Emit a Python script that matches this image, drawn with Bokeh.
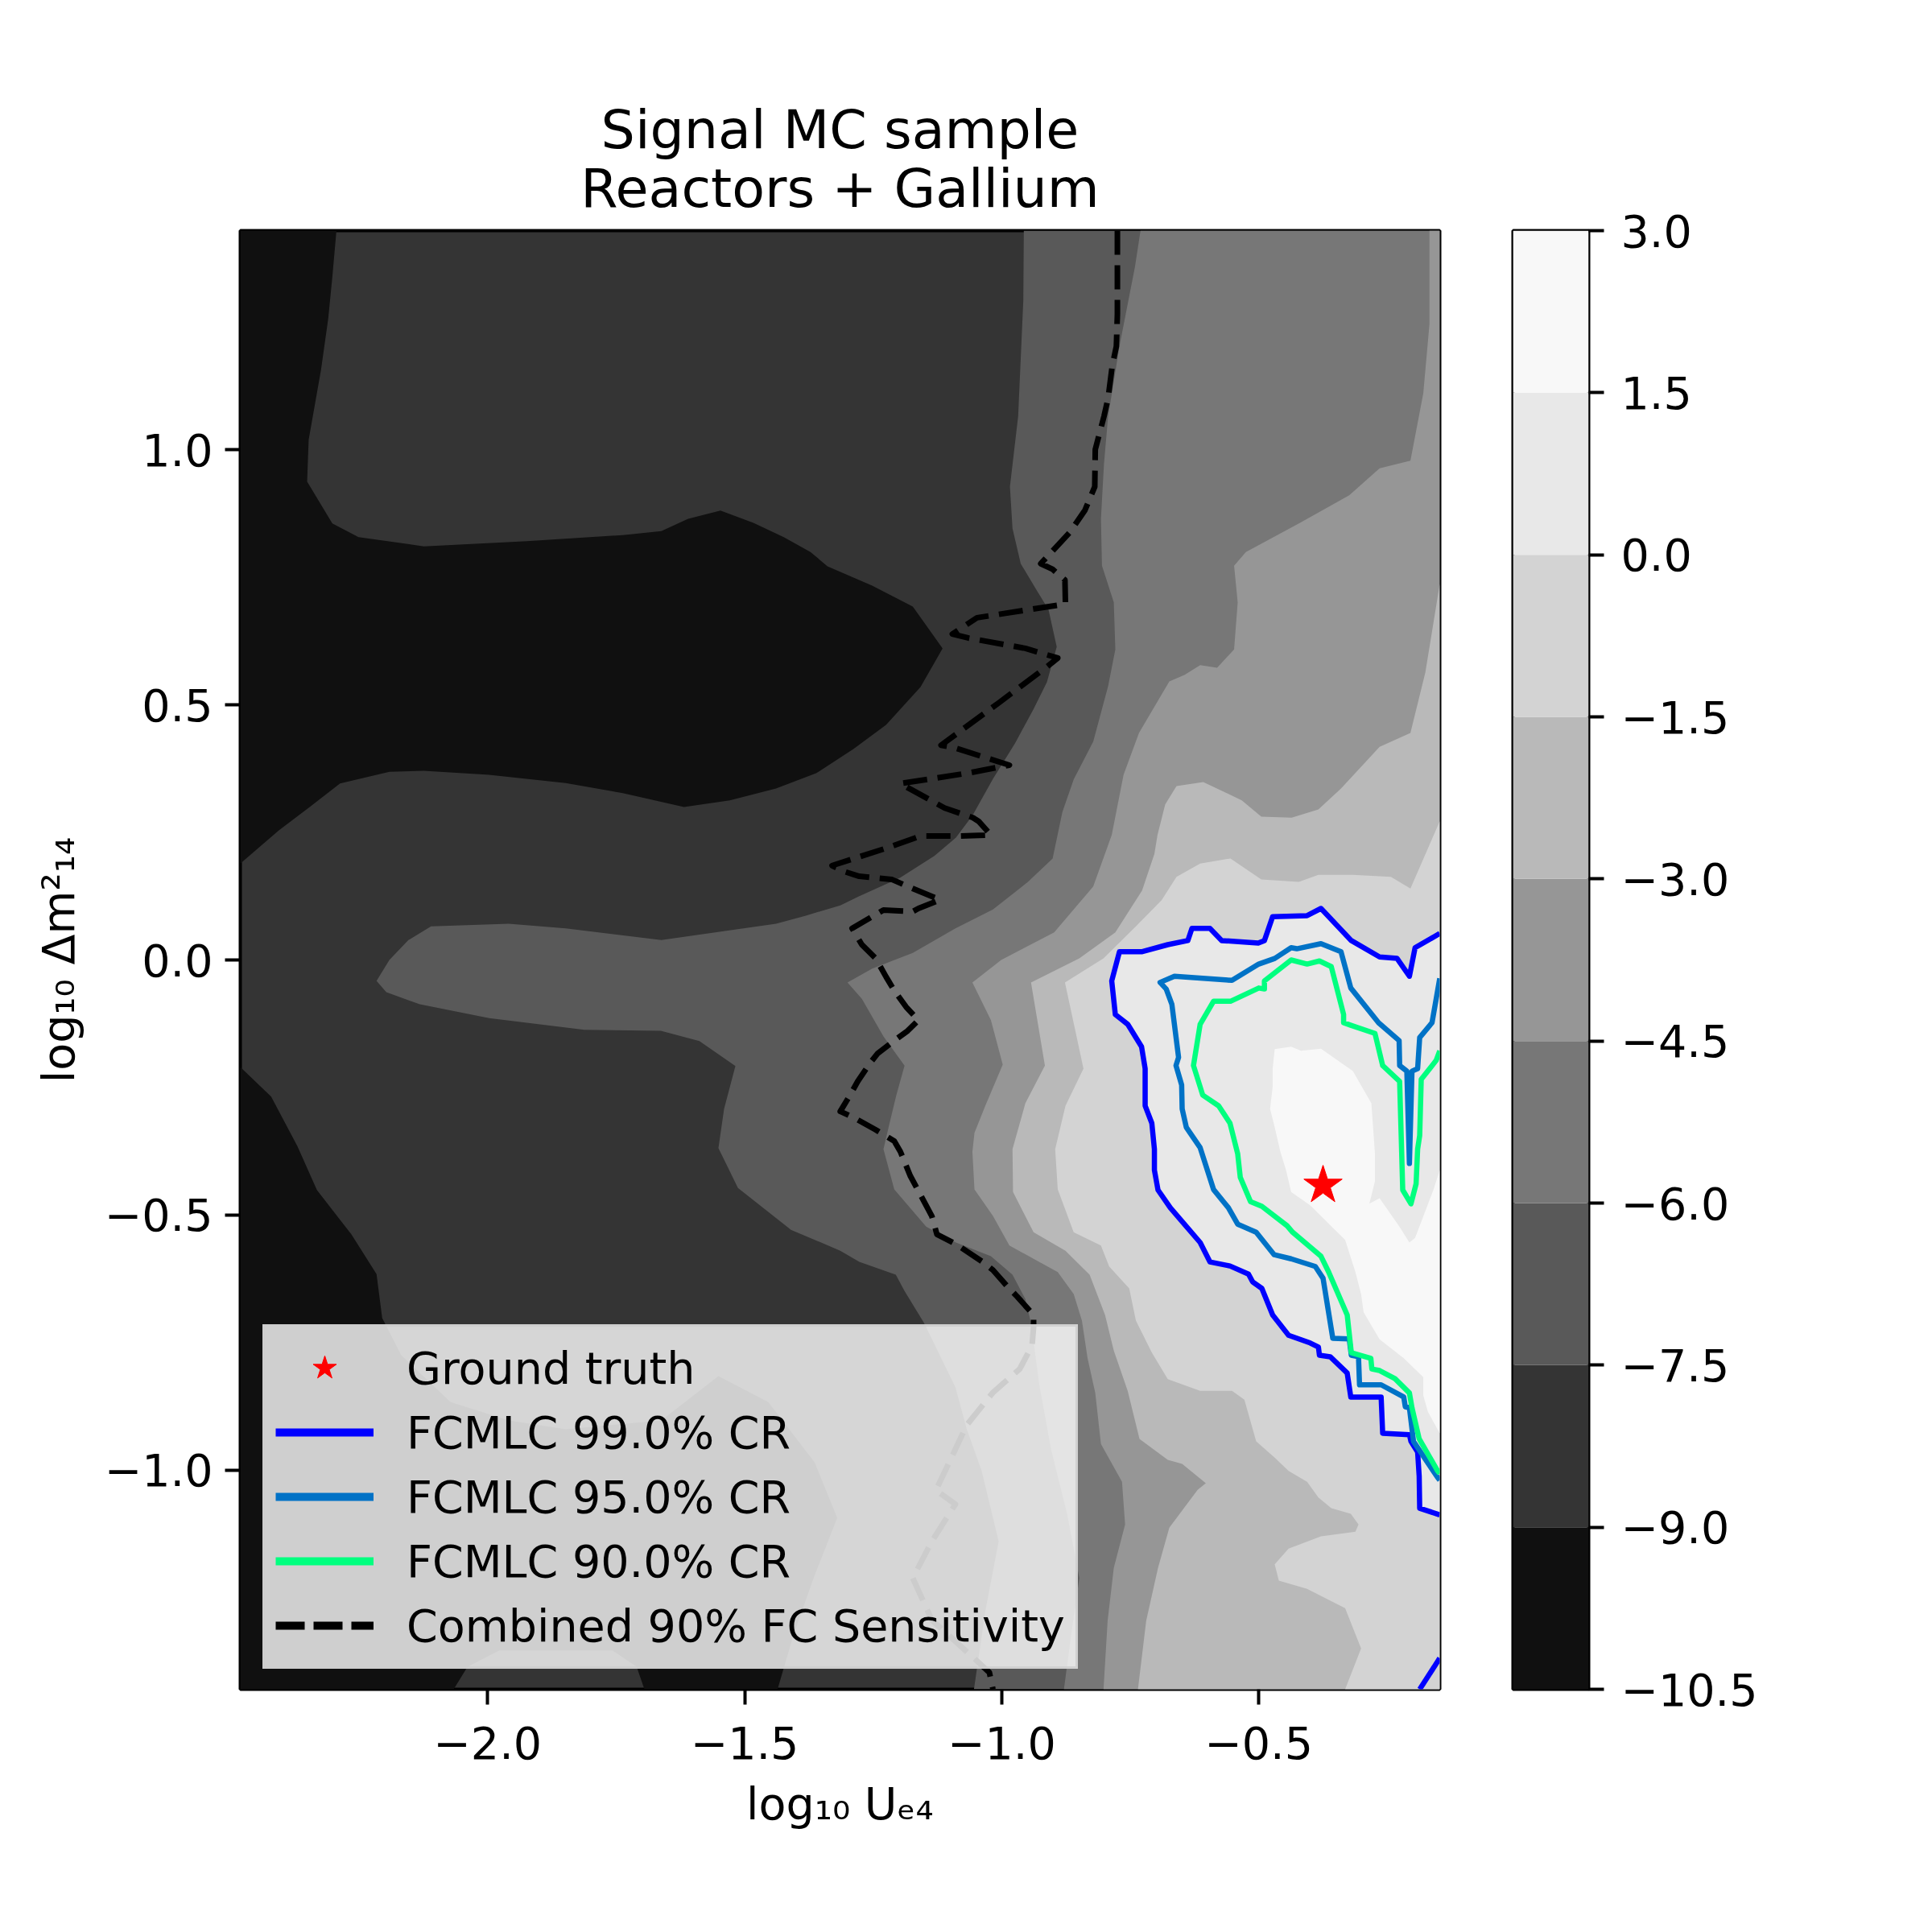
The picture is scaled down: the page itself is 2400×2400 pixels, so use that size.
import math
from bokeh.plotting import figure
from bokeh.models import Range1d, FixedTicker, Legend, LegendItem, Label
from bokeh.layouts import row
from bokeh.embed import file_html
from bokeh.resources import INLINE

FONT = "DejaVu Sans"

# ---------------- data ----------------
x_lim = (-2.481, -0.148)
y_lim = (-1.430, 1.430)

x_ticks = [-2.0, -1.5, -1.0, -0.5]
x_tick_labels = ["\u22122.0", "\u22121.5", "\u22121.0", "\u22120.5"]
y_ticks = [-1.0, -0.5, 0.0, 0.5, 1.0]
y_tick_labels = ["\u22121.0", "\u22120.5", "0.0", "0.5", "1.0"]

levels = [-10.5, -9.0, -7.5, -6.0, -4.5, -3.0, -1.5, 0.0, 1.5, 3.0]
level_labels = ["\u221210.5", "\u22129.0", "\u22127.5", "\u22126.0", "\u22124.5",
                "\u22123.0", "\u22121.5", "0.0", "1.5", "3.0"]
band_colors = ["#101010", "#343434", "#595959", "#777777", "#969696",
               "#b9b9b9", "#d3d3d3", "#e8e8e8", "#f8f8f8"]

# regions with log10 p < -9 (closed outlines)
dark_upper = [(-2.481, 1.430), (-2.294, 1.430), (-2.302, 1.339), (-2.310, 1.257), (-2.324, 1.157),
              (-2.348, 1.020), (-2.351, 0.938), (-2.302, 0.856), (-2.251, 0.829), (-2.124, 0.811),
              (-1.923, 0.821), (-1.737, 0.833), (-1.662, 0.841), (-1.610, 0.865), (-1.547, 0.881),
              (-1.483, 0.857), (-1.424, 0.829), (-1.372, 0.800), (-1.339, 0.772), (-1.252, 0.734),
              (-1.173, 0.693), (-1.115, 0.611), (-1.158, 0.535), (-1.225, 0.461), (-1.288, 0.414),
              (-1.361, 0.366), (-1.439, 0.336), (-1.529, 0.313), (-1.618, 0.300), (-1.737, 0.327),
              (-1.848, 0.347), (-1.997, 0.363), (-2.124, 0.371), (-2.191, 0.369), (-2.287, 0.346),
              (-2.346, 0.300), (-2.406, 0.254), (-2.481, 0.189)]
dark_lower = [(-2.481, -0.210), (-2.421, -0.268), (-2.370, -0.365), (-2.332, -0.451), (-2.265, -0.538),
              (-2.216, -0.616), (-2.205, -0.702), (-2.168, -0.775), (-2.072, -0.867), (-1.959, -0.903),
              (-1.848, -0.920), (-1.662, -0.903), (-1.551, -0.816), (-1.454, -0.867), (-1.364, -0.985),
              (-1.320, -1.094), (-1.366, -1.212), (-1.405, -1.323), (-1.436, -1.430), (-1.695, -1.430),
              (-1.710, -1.386), (-1.757, -1.354), (-1.977, -1.354), (-2.039, -1.386), (-2.066, -1.430),
              (-2.481, -1.430)]

# level boundaries (region to the right of each curve is above the level)
edge_m7_5 = [(-0.957, 1.430), (-0.958, 1.293), (-0.968, 1.066), (-0.984, 0.928), (-0.979, 0.846),
             (-0.963, 0.777), (-0.932, 0.725), (-0.909, 0.687), (-0.893, 0.614), (-0.912, 0.545),
             (-0.938, 0.492), (-0.974, 0.425), (-1.017, 0.355), (-1.057, 0.283), (-1.089, 0.240),
             (-1.131, 0.204), (-1.198, 0.161), (-1.277, 0.125), (-1.314, 0.107), (-1.381, 0.087),
             (-1.439, 0.071), (-1.662, 0.039), (-1.848, 0.062), (-1.959, 0.071), (-2.110, 0.066),
             (-2.154, 0.039), (-2.191, 0.000), (-2.216, -0.041), (-2.197, -0.063), (-2.132, -0.087),
             (-1.997, -0.114), (-1.812, -0.137), (-1.663, -0.139), (-1.588, -0.159), (-1.518, -0.208),
             (-1.540, -0.292), (-1.551, -0.369), (-1.513, -0.447), (-1.410, -0.529), (-1.314, -0.570),
             (-1.277, -0.592), (-1.206, -0.617), (-1.189, -0.649), (-1.151, -0.712), (-1.090, -0.838),
             (-1.068, -0.920), (-1.039, -1.002), (-1.006, -1.140), (-1.032, -1.277), (-1.054, -1.430)]
edge_m6 = [(-0.730, 1.430), (-0.741, 1.358), (-0.771, 1.203), (-0.793, 1.066), (-0.801, 0.974),
           (-0.807, 0.865), (-0.805, 0.773), (-0.782, 0.701), (-0.779, 0.609), (-0.793, 0.537),
           (-0.822, 0.428), (-0.860, 0.354), (-0.882, 0.290), (-0.901, 0.199), (-0.949, 0.153),
           (-1.017, 0.099), (-1.090, 0.062), (-1.173, 0.014), (-1.252, -0.017), (-1.300, -0.044),
           (-1.272, -0.076), (-1.230, -0.150), (-1.189, -0.207), (-1.205, -0.265), (-1.220, -0.328),
           (-1.230, -0.371), (-1.209, -0.450), (-1.147, -0.523), (-1.089, -0.554), (-1.021, -0.581),
           (-0.979, -0.617), (-0.954, -0.665), (-0.943, -0.712), (-0.927, -0.833), (-0.904, -0.960),
           (-0.873, -1.086), (-0.849, -1.212), (-0.865, -1.323), (-0.879, -1.430)]
edge_m4_5 = [(-0.168, 1.430), (-0.168, 1.247), (-0.180, 1.111), (-0.205, 0.979), (-0.265, 0.964),
             (-0.324, 0.911), (-0.422, 0.856), (-0.525, 0.800), (-0.548, 0.773), (-0.541, 0.701),
             (-0.548, 0.609), (-0.581, 0.573), (-0.614, 0.578), (-0.644, 0.559), (-0.674, 0.546),
             (-0.733, 0.445), (-0.763, 0.363), (-0.786, 0.245), (-0.822, 0.144), (-0.898, 0.054),
             (-1.001, 0.000), (-1.057, -0.044), (-1.021, -0.118), (-0.998, -0.205), (-1.032, -0.286),
             (-1.053, -0.339), (-1.057, -0.376), (-1.053, -0.450), (-1.017, -0.502), (-0.985, -0.560),
             (-0.938, -0.586), (-0.891, -0.612), (-0.860, -0.655), (-0.844, -0.707), (-0.833, -0.781),
             (-0.818, -0.849), (-0.807, -0.949), (-0.766, -1.023), (-0.760, -1.107), (-0.782, -1.192),
             (-0.794, -1.296), (-0.802, -1.430)]
edge_m3 = [(-0.148, 0.737), (-0.176, 0.564), (-0.205, 0.445), (-0.265, 0.418), (-0.340, 0.336),
           (-0.384, 0.295), (-0.436, 0.279), (-0.495, 0.281), (-0.533, 0.313), (-0.608, 0.349),
           (-0.660, 0.341), (-0.682, 0.305), (-0.697, 0.245), (-0.703, 0.208), (-0.727, 0.136),
           (-0.779, 0.054), (-0.849, 0.003), (-0.943, -0.044), (-0.916, -0.207), (-0.954, -0.281),
           (-0.979, -0.371), (-0.978, -0.455), (-0.938, -0.534), (-0.876, -0.570), (-0.829, -0.617),
           (-0.799, -0.696), (-0.782, -0.766), (-0.755, -0.845), (-0.732, -0.939), (-0.677, -0.980),
           (-0.649, -0.988), (-0.603, -1.026), (-0.619, -1.039), (-0.674, -1.113), (-0.696, -1.192),
           (-0.719, -1.296), (-0.735, -1.430)]
edge_m1_5 = [(-0.148, 0.272), (-0.205, 0.140), (-0.243, 0.163), (-0.317, 0.167), (-0.384, 0.167),
             (-0.422, 0.153), (-0.495, 0.158), (-0.555, 0.199), (-0.614, 0.189), (-0.660, 0.163),
             (-0.689, 0.117), (-0.739, 0.066), (-0.802, 0.003), (-0.877, -0.044), (-0.841, -0.213),
             (-0.876, -0.286), (-0.896, -0.371), (-0.891, -0.450), (-0.860, -0.534), (-0.807, -0.560),
             (-0.791, -0.601), (-0.752, -0.644), (-0.739, -0.707), (-0.708, -0.770), (-0.677, -0.822),
             (-0.614, -0.845), (-0.552, -0.845), (-0.528, -0.862), (-0.505, -0.944), (-0.469, -0.976),
             (-0.442, -1.002), (-0.406, -1.023), (-0.384, -1.054), (-0.359, -1.075), (-0.321, -1.086),
             (-0.306, -1.107), (-0.312, -1.121), (-0.379, -1.130), (-0.442, -1.154), (-0.469, -1.185),
             (-0.461, -1.217), (-0.406, -1.233), (-0.332, -1.271), (-0.301, -1.350), (-0.332, -1.430)]
core_p1_5 = [(-0.469, -0.175), (-0.437, -0.170), (-0.418, -0.178), (-0.379, -0.174), (-0.317, -0.218),
             (-0.281, -0.281), (-0.274, -0.380), (-0.274, -0.434), (-0.285, -0.478), (-0.265, -0.467),
             (-0.227, -0.522), (-0.207, -0.554), (-0.196, -0.545), (-0.160, -0.450), (-0.148, -0.412),
             (-0.148, -0.928), (-0.171, -0.886), (-0.180, -0.854), (-0.180, -0.818), (-0.218, -0.781),
             (-0.265, -0.744), (-0.296, -0.691), (-0.301, -0.655), (-0.312, -0.612), (-0.332, -0.549),
             (-0.343, -0.538), (-0.400, -0.481), (-0.437, -0.455), (-0.447, -0.412), (-0.458, -0.376),
             (-0.469, -0.328), (-0.478, -0.292), (-0.473, -0.249), (-0.473, -0.213)]

# credible-region contours
cr99 = [(-0.148, 0.052), (-0.196, 0.024), (-0.207, -0.032), (-0.231, 0.003), (-0.265, 0.006),
        (-0.320, 0.038), (-0.379, 0.101), (-0.406, 0.087), (-0.473, 0.085), (-0.489, 0.038),
        (-0.501, 0.033), (-0.572, 0.038), (-0.595, 0.062), (-0.630, 0.062), (-0.638, 0.038),
        (-0.677, 0.030), (-0.728, 0.016), (-0.771, 0.016), (-0.786, -0.041), (-0.779, -0.107),
        (-0.755, -0.126), (-0.728, -0.170), (-0.721, -0.213), (-0.721, -0.286), (-0.708, -0.320),
        (-0.703, -0.371), (-0.703, -0.412), (-0.696, -0.451), (-0.672, -0.486), (-0.614, -0.554),
        (-0.595, -0.592), (-0.556, -0.600), (-0.520, -0.616), (-0.512, -0.631), (-0.494, -0.644),
        (-0.473, -0.696), (-0.442, -0.736), (-0.400, -0.751), (-0.384, -0.759), (-0.382, -0.775),
        (-0.361, -0.778), (-0.328, -0.810), (-0.321, -0.857), (-0.262, -0.857), (-0.259, -0.928),
        (-0.207, -0.931), (-0.204, -0.944), (-0.191, -0.965), (-0.188, -1.012), (-0.187, -1.075),
        (-0.148, -1.088)]
cr99_corner = [(-0.148, -1.369), (-0.187, -1.430)]
cr95 = [(-0.148, -0.036), (-0.163, -0.123), (-0.187, -0.152), (-0.191, -0.213), (-0.202, -0.218),
        (-0.207, -0.399), (-0.212, -0.218), (-0.226, -0.207), (-0.227, -0.158), (-0.267, -0.123),
        (-0.321, -0.055), (-0.340, 0.016), (-0.379, 0.032), (-0.426, 0.022), (-0.437, 0.024),
        (-0.469, 0.003), (-0.500, -0.008), (-0.552, -0.040), (-0.664, -0.032), (-0.692, -0.044),
        (-0.680, -0.057), (-0.669, -0.087), (-0.656, -0.191), (-0.661, -0.207), (-0.650, -0.245),
        (-0.649, -0.292), (-0.641, -0.328), (-0.614, -0.368), (-0.588, -0.450), (-0.559, -0.486),
        (-0.541, -0.518), (-0.505, -0.534), (-0.470, -0.578), (-0.437, -0.586), (-0.390, -0.601),
        (-0.375, -0.624), (-0.356, -0.742), (-0.324, -0.743), (-0.320, -0.775), (-0.306, -0.778),
        (-0.304, -0.833), (-0.262, -0.833), (-0.218, -0.857), (-0.215, -0.876), (-0.207, -0.878),
        (-0.199, -0.944), (-0.152, -1.015), (-0.148, -1.020)]
cr90 = [(-0.148, -0.178), (-0.155, -0.197), (-0.184, -0.234), (-0.187, -0.344), (-0.191, -0.371),
        (-0.194, -0.439), (-0.204, -0.478), (-0.220, -0.451), (-0.223, -0.344), (-0.226, -0.238),
        (-0.259, -0.207), (-0.274, -0.144), (-0.321, -0.128), (-0.335, -0.123), (-0.335, -0.107),
        (-0.359, -0.013), (-0.382, -0.002), (-0.406, -0.008), (-0.437, 0.000), (-0.489, -0.041),
        (-0.489, -0.057), (-0.500, -0.055), (-0.555, -0.081), (-0.588, -0.081), (-0.614, -0.126),
        (-0.627, -0.207), (-0.609, -0.265), (-0.578, -0.286), (-0.556, -0.320), (-0.541, -0.380),
        (-0.536, -0.426), (-0.516, -0.474), (-0.494, -0.483), (-0.445, -0.521), (-0.434, -0.534),
        (-0.379, -0.581), (-0.364, -0.612), (-0.328, -0.696), (-0.320, -0.770), (-0.282, -0.781),
        (-0.280, -0.802), (-0.265, -0.805), (-0.235, -0.821), (-0.207, -0.849), (-0.202, -0.878),
        (-0.188, -0.939), (-0.152, -1.002), (-0.148, -1.007)]

# combined 90% FC sensitivity curve
sensitivity = [(-0.775, 1.430), (-0.775, 1.266), (-0.777, 1.203), (-0.785, 1.165), (-0.793, 1.102),
               (-0.801, 1.066), (-0.818, 1.001), (-0.819, 0.928), (-0.838, 0.882), (-0.868, 0.838),
               (-0.924, 0.777), (-0.901, 0.766), (-0.877, 0.745), (-0.876, 0.698), (-1.048, 0.671),
               (-1.096, 0.639), (-1.064, 0.631), (-0.954, 0.611), (-0.891, 0.592), (-0.912, 0.575),
               (-1.006, 0.504), (-1.118, 0.421), (-1.095, 0.417), (-0.985, 0.382), (-1.068, 0.366),
               (-1.197, 0.346), (-1.183, 0.338), (-1.111, 0.298), (-1.056, 0.279), (-1.045, 0.272),
               (-1.021, 0.245), (-1.084, 0.243), (-1.158, 0.243), (-1.225, 0.219), (-1.330, 0.185),
               (-1.308, 0.174), (-1.277, 0.164), (-1.214, 0.158), (-1.173, 0.140), (-1.120, 0.118),
               (-1.162, 0.101), (-1.173, 0.095), (-1.230, 0.098), (-1.291, 0.062), (-1.272, 0.030),
               (-1.245, 0.003), (-1.225, -0.033), (-1.209, -0.060), (-1.186, -0.092), (-1.162, -0.118),
               (-1.183, -0.139), (-1.205, -0.155), (-1.241, -0.183), (-1.256, -0.202), (-1.280, -0.238),
               (-1.295, -0.265), (-1.314, -0.297), (-1.288, -0.309), (-1.245, -0.333), (-1.209, -0.355),
               (-1.197, -0.376), (-1.178, -0.423), (-1.136, -0.502), (-1.126, -0.538), (-1.089, -0.557),
               (-1.037, -0.592), (-1.017, -0.608), (-0.990, -0.639), (-0.970, -0.660), (-0.938, -0.696),
               (-0.938, -0.720), (-0.941, -0.756), (-0.965, -0.802), (-1.017, -0.848), (-1.068, -0.912),
               (-1.098, -0.976), (-1.128, -1.040), (-1.090, -1.067), (-1.136, -1.140), (-1.173, -1.212),
               (-1.136, -1.294), (-1.054, -1.369), (-1.024, -1.397), (-1.017, -1.430)]

truth_x = [-0.375]
truth_y = [-0.442]

title_lines = ["Signal MC sample", "Reactors + Gallium"]
legend_labels = ["Ground truth", "FCMLC 99.0% CR", "FCMLC 95.0% CR", "FCMLC 90.0% CR",
                 "Combined 90% FC Sensitivity"]
cr_colors = ["#0000ff", "#0072c6", "#00ff7f"]


def xs(pts):
    return [p[0] for p in pts]


def ys(pts):
    return [p[1] for p in pts]


# ---------------- main figure ----------------
p = figure(frame_width=1490, frame_height=1812,
           x_range=Range1d(*x_lim), y_range=Range1d(*y_lim),
           output_backend="svg", toolbar_location=None,
           min_border_left=298, min_border_right=40,
           min_border_top=286, min_border_bottom=230)
p.background_fill_color = band_colors[1]
p.border_fill_color = "white"
p.grid.visible = False
p.outline_line_color = "black"
p.outline_line_width = 4
p.outline_line_alpha = 1.0

# filled level regions
p.patch(xs(dark_upper), ys(dark_upper), fill_color=band_colors[0], line_color=None)
p.patch(xs(dark_lower), ys(dark_lower), fill_color=band_colors[0], line_color=None)
full_close = [(x_lim[1], y_lim[0]), (x_lim[1], y_lim[1])]
low_close = [(x_lim[1], y_lim[0])]
for edge, close, col in [(edge_m7_5, full_close, band_colors[2]),
                         (edge_m6, full_close, band_colors[3]),
                         (edge_m4_5, full_close, band_colors[4]),
                         (edge_m3, low_close, band_colors[5]),
                         (edge_m1_5, low_close, band_colors[6])]:
    pts = edge + close
    p.patch(xs(pts), ys(pts), fill_color=col, line_color=None)
p.patch(xs(cr99), ys(cr99), fill_color=band_colors[7], line_color=None)
p.patch(xs(core_p1_5), ys(core_p1_5), fill_color=band_colors[8], line_color=None)

# lines
p.line(xs(sensitivity), ys(sensitivity), line_color="black", line_width=7,
       line_dash="30 13", line_join="round")
p.line(xs(cr99), ys(cr99), line_color=cr_colors[0], line_width=6.5, line_join="round")
p.line(xs(cr99_corner), ys(cr99_corner), line_color=cr_colors[0], line_width=6.5)
p.line(xs(cr95), ys(cr95), line_color=cr_colors[1], line_width=6.5, line_join="round")
p.line(xs(cr90), ys(cr90), line_color=cr_colors[2], line_width=6.5, line_join="round")
star = p.scatter(truth_x, truth_y, marker="star", size=50, fill_color="red", line_color="red")

# legend proxies
nan = float("nan")
h99 = p.line([nan], [nan], line_color=cr_colors[0], line_width=10)
h95 = p.line([nan], [nan], line_color=cr_colors[1], line_width=10)
h90 = p.line([nan], [nan], line_color=cr_colors[2], line_width=10)
hfc = p.line([nan], [nan], line_color="black", line_width=10, line_dash="36 11")

legend = Legend(items=[LegendItem(label=legend_labels[0], renderers=[star]),
                       LegendItem(label=legend_labels[1], renderers=[h99]),
                       LegendItem(label=legend_labels[2], renderers=[h95]),
                       LegendItem(label=legend_labels[3], renderers=[h90]),
                       LegendItem(label=legend_labels[4], renderers=[hfc])],
                location=(28, 25), margin=0)
legend.label_text_font = FONT
legend.label_text_font_size = "55.5px"
legend.label_text_color = "black"
legend.glyph_width = 122
legend.glyph_height = 76
legend.label_height = 76
legend.spacing = 4
legend.padding = 13
legend.label_standoff = 41
legend.background_fill_color = "white"
legend.background_fill_alpha = 0.8
legend.border_line_color = "#cccccc"
legend.border_line_width = 3
legend.border_line_alpha = 0.8
p.add_layout(legend)

# two-line centred title
p.title.text = "\n".join(title_lines)
p.title.align = "center"
if "text_align" in p.title.properties():
    p.title.text_align = "center"
p.title.text_font = FONT
p.title.text_font_size = "66.7px"
p.title.text_font_style = "normal"
p.title.text_color = "black"
p.title.text_line_height = 0.94
p.title.standoff = 26

# axes
p.xaxis.ticker = FixedTicker(ticks=x_ticks)
p.xaxis.major_label_overrides = dict(zip(x_ticks, x_tick_labels))
p.yaxis.ticker = FixedTicker(ticks=y_ticks)
p.yaxis.major_label_overrides = dict(zip(y_ticks, y_tick_labels))
p.xaxis.axis_label = "log\u2081\u2080 U\u2091\u2084"
p.yaxis.axis_label = "log\u2081\u2080 \u0394m\u00b2\u2081\u2084"


def style_axis(ax):
    ax.major_label_text_font = FONT
    ax.major_label_text_font_size = "55.5px"
    ax.major_label_text_color = "black"
    ax.axis_label_text_font = FONT
    ax.axis_label_text_font_size = "55.5px"
    ax.axis_label_text_font_style = "normal"
    ax.axis_label_text_color = "black"
    ax.major_tick_out = 19
    ax.major_tick_in = 0
    ax.minor_tick_out = 0
    ax.minor_tick_in = 0
    ax.major_tick_line_width = 4
    ax.major_tick_line_color = "black"
    ax.axis_line_color = None


style_axis(p.xaxis[0])
style_axis(p.yaxis[0])
p.xaxis.major_label_standoff = 27
p.xaxis.axis_label_standoff = 20
p.yaxis.major_label_standoff = 15
p.yaxis.axis_label_standoff = 22

# ---------------- colour bar ----------------
cb = figure(frame_width=94, frame_height=1812,
            x_range=Range1d(0, 1), y_range=Range1d(levels[0], levels[-1]),
            y_axis_location="right", output_backend="svg", toolbar_location=None,
            min_border_left=51, min_border_right=340,
            min_border_top=286, min_border_bottom=230)
cb.quad(left=0, right=1, bottom=levels[:-1], top=levels[1:], fill_color=band_colors, line_color=None)
cb.grid.visible = False
cb.xaxis.visible = False
cb.outline_line_color = "black"
cb.outline_line_width = 4
cb.outline_line_alpha = 1.0
cb.yaxis.ticker = FixedTicker(ticks=levels)
cb.yaxis.major_label_overrides = dict(zip(levels, level_labels))
style_axis(cb.yaxis[0])
cb.yaxis.major_label_standoff = 21
cb.add_layout(Label(x=4.0, y=(levels[0] + levels[-1]) / 2,
                    text="log\u2081\u2080 p\u0302(y|x)", angle=math.pi / 2,
                    text_align="center", text_baseline="middle",
                    text_font=FONT, text_font_size="55.5px", text_color="black"))

layout = row(p, cb)
open("out.html", "w").write(file_html(layout, INLINE))
